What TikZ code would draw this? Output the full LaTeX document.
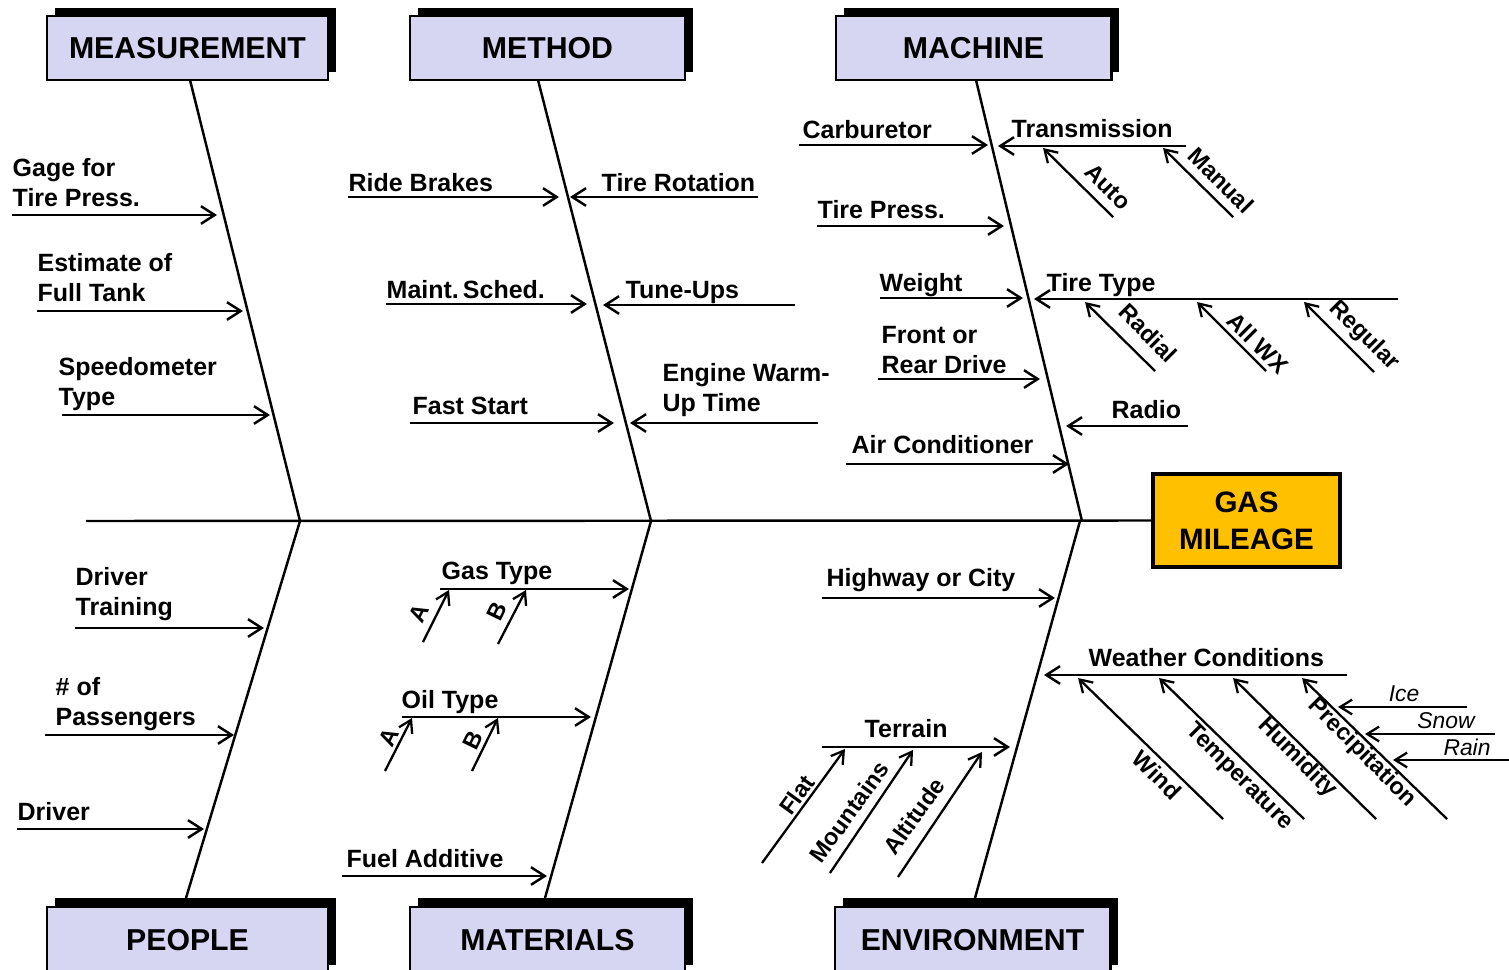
\documentclass[tikz,border=0pt]{standalone}
\usepackage{fontspec}
\setmainfont{Liberation Sans}
\usetikzlibrary{arrows.meta}
\definecolor{boxfill}{RGB}{214,214,242}
\definecolor{gasfill}{RGB}{255,192,0}
\begin{document}
\begin{tikzpicture}[x=0.01cm,y=-0.01cm,
  bone/.style={line width=0.7pt},
  arr/.style={line width=0.7pt,-{Straight Barb[length=3.9pt,width=5pt]}},
  subarr/.style={line width=0.65pt,-{Straight Barb[length=3.4pt,width=4.2pt]}},
  lab/.style={anchor=south west,inner sep=0pt,text depth=0pt,align=left,
    font=\bfseries\fontsize{7.1}{8.6}\selectfont},
  sublab/.style={inner sep=0pt,font=\bfseries\fontsize{6.7}{7.5}\selectfont},
  smalllab/.style={inner sep=0pt,font=\itshape\fontsize{6.5}{7.5}\selectfont},
  head/.style={draw=black,line width=0.8pt,fill=boxfill,inner sep=0pt,
    minimum height=0.64cm,font=\bfseries\fontsize{8.6}{10}\selectfont},
  shadowbox/.style={fill=black}
]
\useasboundingbox (0,0) rectangle (1509,970);
\clip (0,0) rectangle (1509,970);

% ---------- header boxes ----------
\fill[shadowbox] (55,8) rectangle (336,72);
\node[head,minimum width=2.81cm] (meas) at (187.5,48) {MEASUREMENT};
\fill[shadowbox] (418,8) rectangle (693,72);
\node[head,minimum width=2.75cm] (meth) at (547.5,48) {METHOD};
\fill[shadowbox] (844,8) rectangle (1119,72);
\node[head,minimum width=2.75cm] (mach) at (973.5,48) {MACHINE};

\fill[shadowbox] (55,898) rectangle (336,965);
\node[head,minimum width=2.81cm,minimum height=0.66cm] (peop) at (187.5,940) {PEOPLE};
\fill[shadowbox] (418,898) rectangle (693,965);
\node[head,minimum width=2.75cm,minimum height=0.66cm] (mate) at (547.5,940) {MATERIALS};
\fill[shadowbox] (843,898) rectangle (1118,965);
\node[head,minimum width=2.75cm,minimum height=0.66cm] (envi) at (972.5,940) {ENVIRONMENT};

% ---------- effect ----------
\node[draw=black,line width=0.9pt,fill=gasfill,minimum width=1.87cm,minimum height=0.93cm,
  align=center,inner sep=0pt,font=\bfseries\fontsize{8.4}{10.5}\selectfont] (gas) at (1246.5,520.5) {GAS\\MILEAGE};

% ---------- spine & bones ----------
\coordinate (tail) at (86,521);
\coordinate (j1) at (300,521);
\coordinate (j2) at (651,521);
\coordinate (j3) at (1082,521);
\coordinate (j3b) at (1080,521);
\coordinate (measb) at (190,80);
\coordinate (methb) at (538,80);
\coordinate (machb) at (976,80);
\coordinate (peopb) at (186,898);
\coordinate (mateb) at (545,898);
\coordinate (envib) at (975,898);
\draw[bone] (tail) -- (gas.west);
\draw[bone] (measb) -- (j1);
\draw[bone] (methb) -- (j2);
\draw[bone] (machb) -- (j3);
\draw[bone] (j1) -- (peopb);
\draw[bone] (j2) -- (mateb);
\draw[bone] (j3b) -- (envib);

% ---------- MEASUREMENT causes ----------
\node[lab] (l1) at (12,207) {Gage for\\Tire Press.};
\coordinate (a1s) at (12,215); \coordinate (a1e) at (217,215);
\draw[arr] (a1s) -- (a1e);
\node[lab] (l2) at (37,302) {Estimate of\\Full Tank};
\coordinate (a2s) at (37,311); \coordinate (a2e) at (243,311);
\draw[arr] (a2s) -- (a2e);
\node[lab] (l3) at (58,406) {Speedometer\\Type};
\coordinate (a3s) at (62,415); \coordinate (a3e) at (270,415);
\draw[arr] (a3s) -- (a3e);

% ---------- METHOD causes ----------
\node[lab] (l4) at (348,192) {Ride Brakes};
\coordinate (a4s) at (348,197); \coordinate (a4e) at (559,197);
\draw[arr] (a4s) -- (a4e);
\node[lab] (l5) at (601,192) {Tire Rotation};
\coordinate (a5s) at (758,197); \coordinate (a5e) at (570,197);
\draw[arr] (a5s) -- (a5e);
\node[lab] (l6) at (386,299) {Maint.\,Sched.};
\coordinate (a6s) at (386,304); \coordinate (a6e) at (587,304);
\draw[arr] (a6s) -- (a6e);
\node[lab] (l7) at (625,299) {Tune-Ups};
\coordinate (a7s) at (795,305); \coordinate (a7e) at (603,305);
\draw[arr] (a7s) -- (a7e);
\node[lab] (l8) at (412,415) {Fast Start};
\coordinate (a8s) at (410,423); \coordinate (a8e) at (614,423);
\draw[arr] (a8s) -- (a8e);
\node[lab] (l9) at (662,412) {Engine Warm-\\Up Time};
\coordinate (a9s) at (818,423); \coordinate (a9e) at (630,423);
\draw[arr] (a9s) -- (a9e);

% ---------- MACHINE causes ----------
\node[lab] (l10) at (802,139) {Carburetor};
\coordinate (a10s) at (799,145); \coordinate (a10e) at (988,145);
\draw[arr] (a10s) -- (a10e);
\node[lab] (l11) at (1011,138) {Transmission};
\coordinate (a11s) at (1186,146); \coordinate (a11e) at (998,146);
\draw[arr] (a11s) -- (a11e);
\coordinate (s1s) at (1113,217); \coordinate (s1e) at (1043,148);
\draw[subarr] (s1s) -- (s1e);
\node[sublab,rotate=-45] (t1) at (1108,187) {Auto};
\coordinate (s2s) at (1233,217); \coordinate (s2e) at (1163,148);
\draw[subarr] (s2s) -- (s2e);
\node[sublab,rotate=-45] (t2) at (1221,180) {Manual};

\node[lab] (l12) at (817,219) {Tire Press.};
\coordinate (a12s) at (817,226); \coordinate (a12e) at (1004,226);
\draw[arr] (a12s) -- (a12e);
\node[lab] (l13) at (879,292) {Weight};
\coordinate (a13s) at (880,298); \coordinate (a13e) at (1023,298);
\draw[arr] (a13s) -- (a13e);
\node[lab] (l14) at (1046,292) {Tire Type};
\coordinate (a14s) at (1398,299); \coordinate (a14e) at (1034,299);
\draw[arr] (a14s) -- (a14e);
\coordinate (s3s) at (1155,371); \coordinate (s3e) at (1085,302);
\draw[subarr] (s3s) -- (s3e);
\node[sublab,rotate=-45] (t3) at (1148,333) {Radial};
\coordinate (s4s) at (1266,371); \coordinate (s4e) at (1197,302);
\draw[subarr] (s4s) -- (s4e);
\node[sublab,rotate=-45] (t4) at (1258,343) {All WX};
\coordinate (s5s) at (1374,372); \coordinate (s5e) at (1304,302);
\draw[subarr] (s5s) -- (s5e);
\node[sublab,rotate=-45] (t5) at (1364,336) {Regular};

\node[lab] (l15) at (881,374) {Front or\\Rear Drive};
\coordinate (a15s) at (878,379); \coordinate (a15e) at (1040,379);
\draw[arr] (a15s) -- (a15e);
\node[lab] (l16) at (1111,419) {Radio};
\coordinate (a16s) at (1188,426); \coordinate (a16e) at (1066,426);
\draw[arr] (a16s) -- (a16e);
\node[lab] (l17) at (851,454) {Air Conditioner};
\coordinate (a17s) at (846,464); \coordinate (a17e) at (1069,464);
\draw[arr] (a17s) -- (a17e);

% ---------- PEOPLE causes ----------
\node[lab] (l18) at (75,616) {Driver\\Training};
\coordinate (a18s) at (75,628); \coordinate (a18e) at (264,628);
\draw[arr] (a18s) -- (a18e);
\node[lab] (l19) at (55,726) {\# of\\Passengers};
\coordinate (a19s) at (45,735); \coordinate (a19e) at (234,735);
\draw[arr] (a19s) -- (a19e);
\node[lab] (l20) at (17,821) {Driver};
\coordinate (a20s) at (17,829); \coordinate (a20e) at (204,829);
\draw[arr] (a20s) -- (a20e);

% ---------- MATERIALS causes ----------
\node[lab] (l21) at (441,580) {Gas Type};
\coordinate (a21s) at (440,589); \coordinate (a21e) at (629,589);
\draw[arr] (a21s) -- (a21e);
\coordinate (s6s) at (423,642); \coordinate (s6e) at (449,590);
\draw[subarr] (s6s) -- (s6e);
\node[sublab,rotate=64] (t6) at (419,613) {A};
\coordinate (s7s) at (498,644); \coordinate (s7e) at (526,590);
\draw[subarr] (s7s) -- (s7e);
\node[sublab,rotate=64] (t7) at (497,611) {B};

\node[lab] (l22) at (401,709) {Oil Type};
\coordinate (a22s) at (402,717); \coordinate (a22e) at (591,717);
\draw[arr] (a22s) -- (a22e);
\coordinate (s8s) at (385,771); \coordinate (s8e) at (412,718);
\draw[subarr] (s8s) -- (s8e);
\node[sublab,rotate=64] (t8) at (389,737) {A};
\coordinate (s9s) at (472,771); \coordinate (s9e) at (498,718);
\draw[subarr] (s9s) -- (s9e);
\node[sublab,rotate=64] (t9) at (473,740) {B};

\node[lab] (l23) at (346,868) {Fuel Additive};
\coordinate (a23s) at (342,876); \coordinate (a23e) at (547,876);
\draw[arr] (a23s) -- (a23e);

% ---------- ENVIRONMENT causes ----------
\node[lab] (l24) at (826,587) {Highway or City};
\coordinate (a24s) at (822,598); \coordinate (a24e) at (1055,598);
\draw[arr] (a24s) -- (a24e);

\node[lab] (l25) at (1088,667) {Weather Conditions};
\coordinate (a25s) at (1347,675); \coordinate (a25e) at (1044,675);
\draw[arr] (a25s) -- (a25e);
\coordinate (s10s) at (1223,819); \coordinate (s10e) at (1078,678);
\draw[subarr] (s10s) -- (s10e);
\node[sublab,rotate=-45] (t10) at (1157,775) {Wind};
\coordinate (s11s) at (1304,819); \coordinate (s11e) at (1159,678);
\draw[subarr] (s11s) -- (s11e);
\node[sublab,rotate=-45] (t11) at (1239,777) {Temperature};
\coordinate (s12s) at (1376,819); \coordinate (s12e) at (1233,678);
\draw[subarr] (s12s) -- (s12e);
\node[sublab,rotate=-45] (t12) at (1297,758) {Humidity};
\coordinate (s13s) at (1447,819); \coordinate (s13e) at (1302,678);
\draw[subarr] (s13s) -- (s13e);
\node[sublab,rotate=-45] (t13) at (1362,753) {Precipitation};

\coordinate (s14s) at (1467,707); \coordinate (s14e) at (1338,707);
\draw[subarr] (s14s) -- (s14e);
\node[smalllab] (t14) at (1404,694) {Ice};
\coordinate (s15s) at (1495,734); \coordinate (s15e) at (1365,734);
\draw[subarr] (s15s) -- (s15e);
\node[smalllab] (t15) at (1446,721) {Snow};
\coordinate (s16s) at (1509,760); \coordinate (s16e) at (1393,760);
\draw[subarr] (s16s) -- (s16e);
\node[smalllab] (t16) at (1467,747) {Rain};

\node[lab] (l26) at (864,738) {Terrain};
\coordinate (a26s) at (822,747); \coordinate (a26e) at (1010,747);
\draw[arr] (a26s) -- (a26e);
\coordinate (s17s) at (762,863); \coordinate (s17e) at (845,749);
\draw[subarr] (s17s) -- (s17e);
\node[sublab,rotate=54] (t17) at (797,795) {Flat};
\coordinate (s18s) at (830,873); \coordinate (s18e) at (913,750);
\draw[subarr] (s18s) -- (s18e);
\node[sublab,rotate=54] (t18) at (849,812) {Mountains};
\coordinate (s19s) at (898,877); \coordinate (s19e) at (982,752);
\draw[subarr] (s19s) -- (s19e);
\node[sublab,rotate=54] (t19) at (914,816) {Altitude};
\end{tikzpicture}
\end{document}
